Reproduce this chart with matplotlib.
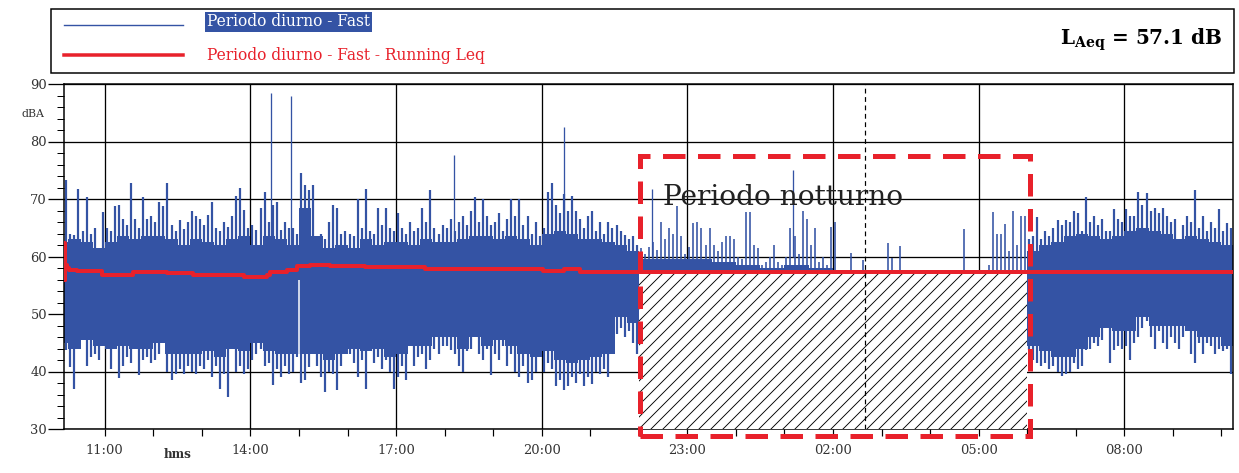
import numpy as np
import matplotlib
matplotlib.use('Agg')
import matplotlib.pyplot as plt
import matplotlib.patches as patches
from matplotlib.lines import Line2D

plt.rcParams['font.family'] = ['DejaVu Serif']
plt.rcParams['mathtext.fontset'] = 'dejavuserif'
plt.rcParams['hatch.linewidth'] = 0.9

BLUE = '#3453a4'
RED = '#e8212b'

# Fast level, one value every 5 minutes (dBA)
step = 5 / 60.0
day_start = 10 + 10 / 60.0      # 10:10
night_start = 22.0              # 22:00
morning_start = 30.0            # 06:00 next day

day_hi = [73.3, 64.0, 63.8, 71.8, 64.5, 70.3, 64.0, 65.0, 61.0, 67.7,
          65.0, 64.5, 68.7, 69.0, 66.6, 65.5, 72.7, 66.6, 65.0, 70.3, 66.5, 67.0,
          66.0, 69.4, 68.7, 72.7, 65.5, 64.5, 66.3, 64.8, 66.0, 68.0, 67.0, 66.5,
          65.5, 67.3, 69.4, 65.0, 64.5, 66.0, 65.2, 67.0, 70.6, 71.9, 68.1, 65.0,
          65.5, 64.6, 68.4, 71.2, 66.0, 69.0, 69.4, 64.6, 66.0, 65.0, 65.0, 64.0,
          74.5, 72.5, 71.5, 72.5, 63.5, 64.0, 63.0, 66.0, 69.0, 68.5, 64.0, 64.5,
          64.0, 63.5, 70.0, 65.0, 71.7, 64.5, 64.0, 68.4, 65.5, 68.4, 65.0, 64.5,
          67.5, 65.0, 64.0, 66.0, 64.5, 65.0, 68.4, 66.0, 71.5, 65.0, 64.0, 65.5,
          65.0, 66.5, 64.5, 66.0, 67.0, 65.5, 68.0, 70.4, 66.0, 70.0, 67.0, 65.5,
          66.0, 67.5, 64.5, 66.5, 70.0, 67.0, 70.0, 65.5, 67.0, 64.0, 66.0, 63.5,
          65.0, 71.3, 72.8, 69.0, 67.5, 70.8, 68.0, 70.5, 68.0, 66.5, 65.0, 67.0,
          68.0, 64.5, 66.0, 64.0, 66.0, 65.0, 65.5, 64.5, 63.8, 63.0, 63.5, 62.0]
day_lo = [43.7, 40.8, 37.0, 44.0, 46.8, 41.0, 42.5, 43.0, 42.0, 45.0,
          45.0, 40.5, 46.8, 38.8, 41.0, 42.5, 41.5, 46.8, 39.4, 42.0, 42.5, 41.5,
          42.0, 43.0, 46.8, 40.0, 38.5, 39.5, 40.5, 39.5, 41.0, 40.0, 39.5, 41.0,
          40.5, 42.0, 39.0, 41.0, 37.0, 39.5, 35.5, 45.8, 40.0, 41.0, 39.5, 40.5,
          42.0, 43.0, 44.0, 41.0, 41.5, 37.7, 40.5, 39.0, 41.0, 39.6, 40.0, 42.6,
          38.0, 38.5, 40.8, 43.0, 41.0, 39.0, 36.4, 40.0, 39.6, 36.8, 41.0, 44.5,
          43.0, 41.5, 39.0, 42.0, 37.0, 45.0, 41.5, 42.5, 40.5, 42.0, 40.0, 37.0,
          39.0, 41.0, 38.5, 45.3, 41.0, 42.5, 43.0, 40.5, 42.0, 44.0, 43.0, 44.5,
          44.5, 43.7, 43.0, 41.0, 40.0, 43.5, 44.0, 47.0, 43.0, 42.0, 44.0, 39.4,
          43.0, 42.0, 44.5, 41.0, 43.0, 40.0, 39.0, 41.0, 38.0, 38.5, 40.0, 44.0,
          40.0, 41.5, 40.4, 37.5, 38.5, 36.7, 37.5, 39.0, 38.0, 39.5, 37.5, 39.0,
          37.8, 40.0, 39.5, 40.5, 39.0, 47.6, 46.5, 47.5, 46.0, 47.0, 45.0, 43.0]

night_hi = [61.5, 60.5, 61.7, 62.5, 61.1, 66.0, 63.0, 65.0, 64.0, 68.7, 63.5, 60.5,
            61.6, 65.8, 66.0, 65.0, 62.0, 65.0, 62.0, 61.0, 62.5, 63.5, 63.5, 63.0,
            60.0, 59.5, 67.7, 67.7, 62.0, 61.5, 58.5, 59.0, 60.0, 62.0, 59.0, 58.5,
            60.0, 64.9, 63.5, 60.5, 67.9, 66.5, 62.0, 65.0, 59.0, 60.0, 58.5, 65.2,
            66.0, 55.0, 55.0, 55.0, 60.6, 55.0, 55.0, 59.4, 55.0, 55.0, 55.0, 55.0,
            55.0, 62.3, 59.7, 55.0, 61.8, 55.0, 55.0, 55.0, 55.0, 55.0, 55.0, 55.0,
            55.0, 55.0, 55.0, 55.0, 55.0, 55.0, 55.0, 55.0, 64.8, 55.0, 55.0, 55.0,
            55.0, 55.0, 58.5, 67.8, 64.0, 64.0, 65.7, 60.9, 68.0, 62.0, 67.0, 67.0]

morning_hi = [63.0, 63.5, 66.9, 63.0, 64.5, 63.5, 65.0, 66.3, 65.5, 66.3, 66.0, 68.0,
              67.5, 64.5, 70.4, 66.0, 67.0, 65.5, 66.5, 64.5, 64.5, 68.3, 66.5, 66.0,
              68.3, 67.0, 67.0, 71.3, 69.0, 71.0, 68.0, 68.5, 67.5, 68.5, 67.0, 66.0,
              66.5, 62.5, 65.5, 67.0, 66.0, 71.5, 65.0, 67.0, 64.5, 66.0, 65.0, 68.3,
              64.5, 65.8, 65.0]
morning_lo = [43.7, 42.0, 41.4, 41.0, 41.5, 40.5, 41.0, 40.0, 39.3, 39.5, 40.0, 41.4,
              40.5, 41.0, 43.7, 44.0, 45.0, 44.5, 45.5, 50.7, 41.4, 43.7, 44.4, 44.0,
              44.4, 42.0, 45.0, 46.0, 47.6, 48.7, 46.0, 44.0, 47.0, 45.0, 44.0, 46.0,
              45.0, 44.0, 46.0, 47.6, 43.0, 41.5, 45.0, 43.0, 45.0, 44.5, 43.0, 44.0,
              43.5, 44.0, 39.6]

# dense band of the signal, 15 minute steps (day from 10:00, morning from 06:00)
core_day_top = [62.5, 63.0, 62.5, 61.5, 62.5, 63.5, 63.0, 63.5, 63.5, 63.0, 62.0, 63.0,
                62.5, 62.0, 63.0, 63.5, 62.0, 63.5, 63.0, 62.0, 68.5, 63.5, 61.5, 62.0,
                61.5, 63.0, 62.0, 62.5, 62.5, 62.0, 63.0, 62.5, 62.5, 63.0, 63.5, 63.5,
                63.0, 63.5, 63.0, 62.0, 64.0, 64.5, 64.0, 63.0, 63.0, 62.5, 62.0, 61.0]
core_day_bot = [45.0, 44.0, 45.5, 44.5, 44.0, 44.5, 44.0, 44.0, 45.0, 43.0, 43.0, 43.0,
                43.5, 42.5, 44.0, 43.5, 45.0, 43.5, 43.0, 43.0, 43.0, 43.0, 42.0, 43.0,
                44.0, 43.5, 44.0, 42.5, 43.0, 44.5, 44.5, 46.0, 46.0, 44.0, 46.0, 44.5,
                45.5, 44.5, 43.0, 42.5, 43.5, 42.0, 41.5, 42.0, 42.5, 43.0, 49.5, 48.5]
core_morning_top = [61.0, 62.0, 62.5, 63.5, 64.0, 63.5, 63.0, 63.5, 64.5, 65.0, 64.5, 64.0,
                    63.0, 63.5, 63.0, 62.5, 62.0]
core_morning_bot = [44.5, 43.5, 42.5, 42.5, 44.0, 46.0, 47.5, 47.0, 47.0, 49.5, 48.0, 48.0,
                    48.0, 47.0, 46.0, 46.0, 44.5]
# night: dense part just above the running Leq, 30 minute steps from 22:00
core_night_top = [59.5, 59.5, 59.5, 59.0, 58.5, 58.0, 58.5, 58.0]

# isolated peaks (hour, dBA)
spike_t = [14.42, 14.83, 18.2, 20.45, 22.27, 25.18]
spike_v = [88.4, 88.0, 77.7, 82.6, 71.7, 75.0]

# short dropout in the record
gap_t, gap_lo, gap_hi = 15.0, 40.3, 55.9

# running Leq (step)
leq_t = [10.16, 10.175, 10.19, 10.22, 10.26, 10.42, 10.95, 11.59, 12.28, 12.82, 13.86,
         14.34, 14.41, 14.75, 14.96, 15.23, 15.63, 16.35, 17.6, 20.03, 20.45, 20.79, 34.24]
leq_v = [62.3, 56.0, 58.6, 58.0, 57.7, 57.4, 56.8, 57.3, 57.1, 56.7, 56.4,
         56.8, 57.3, 57.7, 58.3, 58.6, 58.4, 58.1, 57.8, 57.5, 57.8, 57.3, 57.3]
night_level = 57.3
LAeq = 57.1

t_begin, t_end = 10.16, 34.24

W, H = 1239, 473
fig = plt.figure(figsize=(W / 72, H / 72), dpi=72)
ax = fig.add_axes([64 / W, 1 - 429 / H, (1233 - 64) / W, (429 - 84) / H])

# dense band
q = 0.25
e_day = 10.0 + q * np.arange(len(core_day_top) + 1)
e_morning = morning_start + q * np.arange(len(core_morning_top) + 1)
e_night = night_start + 0.5 * np.arange(len(core_night_top) + 1)
ax.stairs(core_day_top, e_day, baseline=core_day_bot, fill=True, color=BLUE, lw=0, zorder=2)
ax.stairs(core_morning_top, e_morning, baseline=core_morning_bot, fill=True, color=BLUE, lw=0, zorder=2)
ax.stairs(core_night_top, e_night, baseline=50, fill=True, color=BLUE, lw=0, zorder=2)

# 5 minute samples
t_day = day_start + (np.arange(len(day_hi)) + 0.5) * step
t_night = night_start + (np.arange(len(night_hi)) + 0.5) * step
t_morning = morning_start + (np.arange(len(morning_hi)) + 0.5) * step
ax.vlines(t_day, day_lo, day_hi, color=BLUE, lw=2.2, zorder=2)
ax.vlines(t_morning, morning_lo, morning_hi, color=BLUE, lw=2.2, zorder=2)
ax.vlines(t_night, 50, night_hi, color=BLUE, lw=1.6, zorder=2)
ax.vlines(spike_t, 60, spike_v, color=BLUE, lw=1.3, zorder=2)
ax.vlines(gap_t, gap_lo, gap_hi, color='white', lw=1.5, zorder=2.5)

# night period hatched
hatch = patches.Rectangle((night_start, 30), morning_start - night_start, night_level - 30,
                          facecolor='white', edgecolor='black', hatch='//', lw=0, zorder=3)
ax.add_patch(hatch)

ax.step(leq_t, leq_v, where='post', color=RED, lw=4, zorder=4)

ax.axvline(26.66, color='black', lw=1.2, ls=(0, (4, 3)), zorder=5)

box = patches.Rectangle((22.03, 28.7), 8.03, 48.8, fill=False, edgecolor=RED, lw=5,
                        linestyle=(0, (4.5, 2.5)), clip_on=False, zorder=6)
ax.add_patch(box)
ax.text(22.5, 69.0, 'Periodo notturno', fontsize=28, color='#222222', va='baseline', zorder=5)

ax.set_xlim(t_begin, t_end)
ax.set_ylim(30, 90)
major = list(range(11, 33, 3))
ax.set_xticks(major)
ax.set_xticklabels(['%02d:00' % (h % 24) for h in major])
ax.set_xticks(range(11, 35), minor=True)
ax.set_yticks(range(30, 91, 10))
ax.set_yticks(range(30, 91, 2), minor=True)
ax.grid(True, which='major', color='black', lw=1.3)
ax.set_axisbelow(True)
ax.tick_params(axis='x', which='both', direction='out', length=7, width=1.2, labelsize=13,
               labelcolor='#333333', pad=8)
ax.tick_params(axis='y', which='major', direction='out', length=16, width=1.3, labelsize=13,
               labelcolor='#333333', pad=1)
ax.tick_params(axis='y', which='minor', direction='out', length=7, width=1.0)
for s in ax.spines.values():
    s.set_linewidth(1.5)
ax.text(12.5, -0.075, 'hms', transform=ax.get_xaxis_transform(), ha='center', va='center',
        fontsize=12, fontweight='bold', color='#333333')
fig.text(33 / W, 1 - 114 / H, 'dBA', ha='center', va='center', fontsize=11, color='#333333')

# legend box on top
fig.add_artist(patches.Rectangle((51 / W, 1 - 73 / H), 1183 / W, 64 / H, transform=fig.transFigure,
                                 fill=False, edgecolor='black', lw=1.5))
fig.add_artist(Line2D([64 / W, 183 / W], [1 - 25 / H] * 2, color=BLUE, lw=1.4, transform=fig.transFigure))
fig.add_artist(Line2D([64 / W, 183 / W], [1 - 55 / H] * 2, color=RED, lw=3.5, transform=fig.transFigure))
fig.text(207 / W, 1 - 22 / H, 'Periodo diurno - Fast', color='white', fontsize=15.5, va='center',
         bbox=dict(facecolor=BLUE, edgecolor='none', pad=1.5))
fig.text(207 / W, 1 - 55 / H, 'Periodo diurno - Fast - Running Leq', color=RED, fontsize=15.5, va='center')
fig.text(1222 / W, 1 - 40 / H, r'$\mathbf{L}_{\mathbf{Aeq}}$ = %.1f dB' % LAeq, ha='right', va='center',
         fontsize=20, fontweight='bold')

fig.savefig('out.png', dpi=72)
